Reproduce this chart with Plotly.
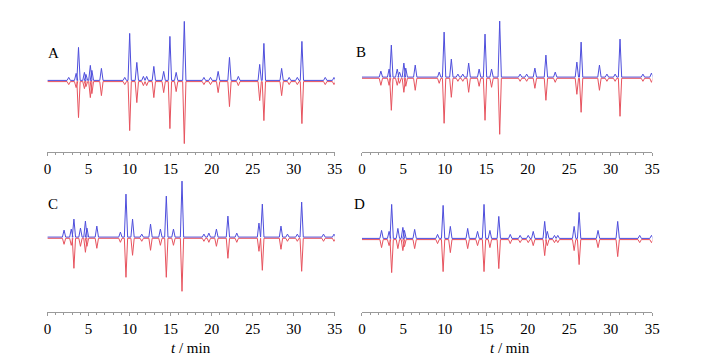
import plotly.graph_objects as go

W, H = 714, 364
OFF = 8  # default page margin of the browser body
FW, FH = W - 2 * OFF, H - 2 * OFF

# ---------------- data (retention time in min, peak heights in arbitrary units) -------------
A_times = [2.6, 3.5, 3.79, 4.51, 4.7, 5.23, 5.42, 6.58, 9.42, 10.02, 10.89, 11.69, 12.09, 12.96,
           14.16, 14.92, 15.68, 16.67, 19.06, 19.86, 20.79, 22.17, 23.25, 25.85, 26.36, 28.52,
           29.44, 30.43, 30.99, 33.83, 34.9]
A_blue = [3, 7, 33, 8, 6, 15, 10, 12, 3, 47, 18, 4, 4, 14, 9, 44, 8, 59, 3, 3, 9, 23, 4, 16, 37,
          12, 3, 3, 39, 3, 3]
A_red = [3, 6, 36, 7, 5, 16, 12, 14, 3, 49, 21, 4, 4, 16, 11, 47, 10, 62, 3, 3, 11, 25, 4, 19, 39,
         14, 3, 3, 42, 3, 3]

B_times = [2.29, 3.28, 3.55, 4.26, 4.54, 5.06, 5.29, 6.43, 9.32, 9.91, 10.78, 11.57, 12.16, 12.87,
           14.13, 14.84, 15.63, 16.61, 19.07, 19.86, 20.85, 22.18, 23.3, 25.91, 26.42, 28.63,
           29.53, 30.52, 31.11, 33.87, 34.9]
B_blue = [6, 8, 32, 8, 5, 14, 9, 12, 5, 45, 18, 3, 3, 14, 8, 43, 8, 56, 3, 3, 9, 22, 5, 15, 35,
          12, 3, 3, 38, 3, 4]
B_red = [7, 7, 32, 7, 5, 14, 8, 12, 5, 45, 19, 3, 3, 14, 8, 42, 9, 56, 3, 3, 10, 22, 4, 16, 34,
         12, 3, 3, 38, 3, 4]

C_times = [2.03, 2.91, 3.23, 4.03, 4.63, 4.82, 6.02, 8.89, 9.57, 10.37, 11.49, 12.56, 13.76, 14.48,
           15.35, 16.39, 19.06, 19.66, 20.58, 21.98, 23.06, 25.76, 26.17, 28.44, 29.23, 30.43,
           30.96, 33.62, 34.9]
C_blue = [7, 8, 18, 9, 16, 9, 11, 5, 43, 18, 3, 13, 8, 41, 8, 56, 3, 4, 8, 21, 4, 14, 33, 11, 3, 3,
          35, 3, 3]
C_red = [6, 7, 30, 8, 14, 8, 10, 4, 39, 17, 3, 12, 7, 39, 7, 53, 3, 4, 8, 20, 4, 13, 32, 11, 3, 3,
         33, 3, 3]

D_times = [2.37, 3.28, 3.59, 4.34, 4.94, 5.13, 6.36, 9.12, 9.79, 10.66, 12.75, 13.94, 14.72, 15.43,
           16.5, 17.88, 19.07, 20.05, 20.65, 22.03, 22.35, 23.21, 23.61, 25.58, 26.18, 28.46,
           30.83, 33.48, 34.9]
D_blue = [8, 7, 34, 10, 11, 8, 9, 4, 33, 12, 10, 7, 34, 8, 22, 4, 3, 3, 7, 17, 7, 3, 3, 12, 26, 8,
          17, 3, 3]
D_red = [8, 6, 33, 9, 11, 7, 9, 4, 32, 13, 9, 6, 32, 8, 29, 4, 3, 3, 6, 16, 6, 3, 3, 11, 25, 8,
         17, 3, 3]

panel_labels = ["A", "B", "C", "D"]
tick_vals = [0, 5, 10, 15, 20, 25, 30, 35]
x_title = "<i>t</i> / min"
T_START, T_END = 0, 35

panels = [
    (A_times, A_blue, A_red),
    (B_times, B_blue, B_red),
    (C_times, C_blue, C_red),
    (D_times, D_blue, D_red),
]

# ---------------- layout geometry (window pixels) ----------------
HALF_W = 0.2  # peak half width (min)
BLUE = "#3b3bd9"
RED = "#e5414d"

x_dom = [(44, 336.5), (364, 659.5), (44, 336.5), (364, 659.5)]
y_axis_px = [151.5, 151.5, 312, 312]
y_top_px = [18.5, 18.5, 179, 179]
baseline_px = [81, 77.7, 237.7, 239]
label_pos = [(50, 53), (363, 52), (50, 204), (362, 204)]


def px_x(x):
    return (x - OFF) / FW


def px_y(y):
    return 1 - (y - OFF) / FH


def chrom(times, heights, sign, offset):
    xs, ys = [T_START], [offset]
    for t, h in zip(times, heights):
        xs += [t - HALF_W, t, t + HALF_W]
        ys += [offset, offset + sign * h, offset]
    xs.append(T_END)
    ys.append(offset)
    return xs, ys


fig = go.Figure()
layout = dict(
    width=FW, height=FH,
    margin=dict(l=0, r=0, t=0, b=0),
    paper_bgcolor="white", plot_bgcolor="white",
    showlegend=False,
    annotations=[],
)

for i, (times, blue, red) in enumerate(panels):
    n = "" if i == 0 else str(i + 1)
    xa, ya = "x" + n, "y" + n
    xb, yb = chrom(times, blue, 1, 0.6)
    fig.add_trace(go.Scatter(x=xb, y=yb, mode="lines", xaxis=xa, yaxis=ya,
                             line=dict(color=BLUE, width=1), opacity=0.9, hoverinfo="skip"))
    xr, yr = chrom(times, red, -1, -0.6)
    fig.add_trace(go.Scatter(x=xr, y=yr, mode="lines", xaxis=xa, yaxis=ya,
                             line=dict(color=RED, width=1), opacity=0.9, hoverinfo="skip"))

    below = y_axis_px[i] - baseline_px[i]
    above = baseline_px[i] - y_top_px[i]
    layout["xaxis" + n] = dict(
        domain=[px_x(x_dom[i][0]), px_x(x_dom[i][1])],
        anchor=ya, range=[T_START, T_END],
        showline=True, linecolor="#9a9a9a", linewidth=1,
        ticks="outside", ticklen=3, tickcolor="#9a9a9a", tickwidth=1,
        tickvals=tick_vals,
        minor=dict(dtick=1, ticks="outside", ticklen=2, tickcolor="#9a9a9a", tickwidth=1),
        tickfont=dict(family="Liberation Serif", size=15, color="black"),
        showgrid=False, zeroline=False, fixedrange=True,
    )
    layout["yaxis" + n] = dict(
        domain=[px_y(y_axis_px[i]), px_y(y_top_px[i])],
        anchor=xa, range=[-below, above], visible=False, fixedrange=True,
    )
    lx, ly = label_pos[i]
    layout["annotations"].append(dict(
        text=panel_labels[i], x=px_x(lx), y=px_y(ly), xref="paper", yref="paper",
        showarrow=False, xanchor="center", yanchor="middle",
        font=dict(family="Liberation Serif", size=15, color="black")))

for cx in (190, 515):
    layout["annotations"].append(dict(
        text=x_title, x=px_x(cx), y=px_y(348), xref="paper", yref="paper",
        showarrow=False, xanchor="center", yanchor="middle",
        font=dict(family="Liberation Serif", size=15, color="black")))

fig.update_layout(**layout)
fig.write_html("out.html")
